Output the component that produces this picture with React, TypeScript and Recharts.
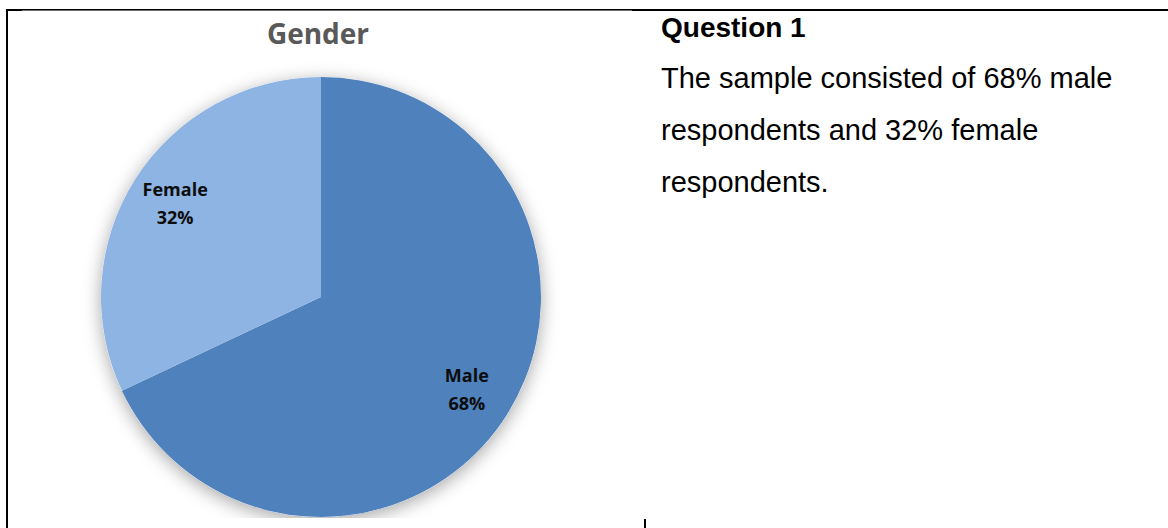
import React from 'react';
import { PieChart, Pie, Cell } from 'recharts';

// 데이터
const labels = ['Male', 'Female'];
const shares = [68, 32];
const colors = ['#4F81BD', '#8EB4E3'];

const rows = labels.map((label, i) => ({ label, value: shares[i], color: colors[i] }));

const RADIAN = Math.PI / 180;
const labelFont = "'Open Sans', 'Noto Sans', sans-serif";

const renderLabel = (p: any) => {
  const r = p.outerRadius * 0.785;
  const x = p.cx + r * Math.cos(-p.midAngle * RADIAN);
  const y = p.cy + r * Math.sin(-p.midAngle * RADIAN);
  return (
    <text textAnchor="middle" fill="#0d0d0d" fontFamily={labelFont} fontWeight={700} fontSize={18}>
      <tspan x={x} y={y - 8}>{p.payload.label}</tspan>
      <tspan x={x} y={y + 20}>{`${Math.round(p.percent * 100)}%`}</tspan>
    </text>
  );
};

const bodyText: React.CSSProperties = {
  position: 'absolute', left: 661, fontFamily: "'Liberation Sans', Arial, sans-serif",
  color: '#000', whiteSpace: 'nowrap',
};

export default function App() {
  return (
    <div style={{ position: 'absolute', left: 0, top: 0, width: 1168, height: 528, background: '#fff', overflow: 'hidden' }}>
      {/* table borders */}
      <div style={{ position: 'absolute', left: 6, top: 9, width: 1162, height: 2, background: '#000' }} />
      <div style={{ position: 'absolute', left: 6, top: 9, width: 2, height: 519, background: '#000' }} />
      <div style={{ position: 'absolute', left: 644, top: 519, width: 2, height: 9, background: '#000' }} />

      {/* chart picture */}
      <div style={{ position: 'absolute', left: 22, top: 10, width: 610, height: 508, background: '#fff' }}>
        <div style={{ position: 'absolute', left: 0, top: 0, width: 610, height: 1, background: '#6b6b6b' }} />
        <div style={{ position: 'absolute', left: 196, top: 9, width: 200, textAlign: 'center', fontFamily: labelFont, fontWeight: 700, fontSize: 28, lineHeight: '28px', color: '#595959' }}>
          Gender
        </div>
        <PieChart width={610} height={508} margin={{ top: 0, right: 0, bottom: 0, left: 0 }}>
          <defs>
            <filter id="pieShadow" x="-20%" y="-20%" width="140%" height="140%">
              <feDropShadow dx="0" dy="4" stdDeviation="9" floodColor="#000" floodOpacity="0.35" />
            </filter>
          </defs>
          <Pie data={rows} dataKey="value" nameKey="label" cx={299} cy={287} outerRadius={220}
            startAngle={90} endAngle={-270} stroke="none" isAnimationActive={false} filter="url(#pieShadow)">
            {rows.map((d, i) => <Cell key={i} fill="#ffffff" />)}
          </Pie>
          <Pie data={rows} dataKey="value" nameKey="label" cx={299} cy={287} outerRadius={220}
            startAngle={90} endAngle={-270} stroke="none" isAnimationActive={false}
            label={renderLabel} labelLine={false}>
            {rows.map((d, i) => <Cell key={i} fill={d.color} />)}
          </Pie>
        </PieChart>
      </div>

      {/* text cell */}
      <div style={{ ...bodyText, top: 14, fontSize: 28, lineHeight: '28px', fontWeight: 700 }}>Question 1</div>
      <div style={{ ...bodyText, top: 52, fontSize: 29, lineHeight: '52px' }}>
        The sample consisted of 68% male<br />
        respondents and 32% female<br />
        respondents.
      </div>
    </div>
  );
}
